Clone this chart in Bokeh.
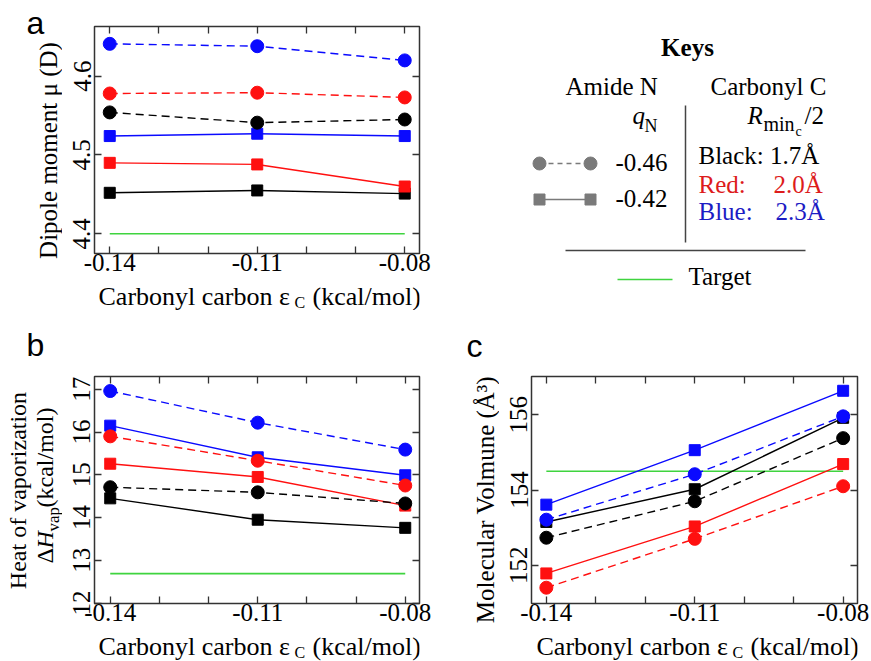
import math
from bokeh.plotting import figure
from bokeh.models import Range1d, LinearAxis, FixedTicker, Label
from bokeh.layouts import row, column
from bokeh.embed import file_html
from bokeh.resources import INLINE

# ---------------- data ----------------
eps_c = [-0.14, -0.11, -0.08]
x_minor = [-0.13, -0.12, -0.10, -0.09]
x_tick_labels = ["-0.14", "-0.11", "-0.08"]

# (a) dipole moment (D); q_N = -0.46 -> dashed circles, q_N = -0.42 -> solid squares
dip_q46_black = [4.554, 4.541, 4.545]
dip_q46_red = [4.578, 4.579, 4.573]
dip_q46_blue = [4.641, 4.638, 4.620]
dip_q42_black = [4.452, 4.455, 4.451]
dip_q42_red = [4.490, 4.488, 4.460]
dip_q42_blue = [4.524, 4.527, 4.524]
dip_target = 4.40
dip_ticks = [4.4, 4.5, 4.6]
dip_tick_labels = ["4.4", "4.5", "4.6"]

# (b) heat of vaporization (kcal/mol)
hv_q46_black = [14.71, 14.59, 14.33]
hv_q46_red = [15.90, 15.33, 14.75]
hv_q46_blue = [16.96, 16.22, 15.59]
hv_q42_black = [14.45, 13.95, 13.76]
hv_q42_red = [15.26, 14.95, 14.28]
hv_q42_blue = [16.15, 15.41, 14.99]
hv_target = 12.69
hv_ticks = [12, 13, 14, 15, 16, 17]
hv_tick_labels = ["12", "13", "14", "15", "16", "17"]

# (c) molecular volume (A^3)
mv_q46_black = [152.73, 153.70, 155.38]
mv_q46_red = [151.40, 152.70, 154.10]
mv_q46_blue = [153.21, 154.42, 155.96]
mv_q42_black = [153.15, 154.02, 155.92]
mv_q42_red = [151.78, 153.03, 154.69]
mv_q42_blue = [153.61, 155.06, 156.64]
mv_target = 154.50
mv_ticks = [152, 154, 156]
mv_tick_labels = ["152", "154", "156"]

# ---------------- style ----------------
SERIF = "Liberation Serif"
SANS = "Liberation Sans"
FRAME = "#333333"
C_BLACK = "#000000"
C_RED = "#ff1010"
C_BLUE = "#0a0aff"
C_GREEN = "#3fd43f"
C_GRAY = "#7a7a7a"
VERT = math.pi / 2
BASE_SHIFT = 0.32   # measured offset of rendered baseline, in em


def style_axis(ax, standoff=0):
    ax.axis_line_color = None
    ax.major_tick_in = 7
    ax.major_tick_out = 0
    ax.minor_tick_in = 7
    ax.minor_tick_out = 0
    ax.major_tick_line_color = FRAME
    ax.minor_tick_line_color = FRAME
    ax.major_tick_line_width = 1.3
    ax.minor_tick_line_width = 1.3
    ax.major_label_text_font = SERIF
    ax.major_label_text_font_size = "25px"
    ax.major_label_text_color = "#000000"
    ax.major_label_standoff = standoff


def panel(width, height, borders, xr, yr, yticks, ylabels, sq, ci, target, ystand=4):
    lb, rb, tb, bb = borders
    p = figure(width=width, height=height, output_backend="svg", toolbar_location=None,
               x_range=Range1d(*xr), y_range=Range1d(*yr),
               min_border_left=lb, min_border_right=rb,
               min_border_top=tb, min_border_bottom=bb,
               background_fill_color="white", border_fill_color="white")
    p.grid.visible = False
    p.outline_line_color = FRAME
    p.outline_line_width = 1.5

    p.xaxis.ticker = FixedTicker(ticks=eps_c, minor_ticks=x_minor)
    p.xaxis.major_label_overrides = dict(zip(eps_c, x_tick_labels))
    p.yaxis.ticker = FixedTicker(ticks=yticks, minor_ticks=[])
    p.yaxis.major_label_overrides = dict(zip(yticks, ylabels))
    p.yaxis.major_label_orientation = "vertical"
    for ax in p.xaxis:
        style_axis(ax, 0)
    for ax in p.yaxis:
        style_axis(ax, ystand)

    top = LinearAxis(ticker=FixedTicker(ticks=[], minor_ticks=eps_c + x_minor))
    right = LinearAxis(ticker=FixedTicker(ticks=[], minor_ticks=list(yticks)))
    style_axis(top)
    style_axis(right)
    p.add_layout(top, "above")
    p.add_layout(right, "right")

    p.line([eps_c[0], eps_c[-1]], [target, target], line_color=C_GREEN, line_width=1.6)
    for vals, col in sq:
        p.line(eps_c, vals, line_color=col, line_width=1.4)
        p.scatter(eps_c, vals, marker="square", size=11, fill_color=col, line_color=col)
    for vals, col in ci:
        p.line(eps_c, vals, line_color=col, line_width=1.4, line_dash="8 5")
        p.scatter(eps_c, vals, marker="circle", size=13, fill_color=col, line_color=col)
    return p


def strip(x0, x1, y0, y1):
    """A blank figure covering page pixels x0..x1, y0..y1 (data = page pixels)."""
    s = figure(width=x1 - x0, height=y1 - y0, output_backend="svg", toolbar_location=None,
               x_range=Range1d(x0, x1), y_range=Range1d(y1, y0),
               min_border_left=0, min_border_right=0, min_border_top=0, min_border_bottom=0,
               x_axis_type=None, y_axis_type=None,
               background_fill_color="white", border_fill_color="white")
    s.outline_line_color = None
    s.grid.visible = False
    s._page_origin = (x0, y0)
    return s


def lab(p, x, y, text, size=25, font=SERIF, style="normal", color="#000000",
        align="left", angle=0.0, canvas=True):
    """Place a text whose baseline passes through page pixel (x, y)."""
    shift = BASE_SHIFT * size
    if angle:
        x = x - shift
    else:
        y = y - shift
    if canvas:
        ox, oy = p._page_origin
        kw = dict(x=x - ox, y=y - oy, x_units="canvas", y_units="canvas")
    else:
        kw = dict(x=x, y=y)
    p.add_layout(Label(text=text, text_font=font, text_font_size=f"{size}px",
                       text_font_style=style, text_color=color, text_align=align,
                       text_baseline="alphabetic", angle=angle, **kw))


def xtitle(s, x0, base):
    lab(s, x0, base, "Carbonyl carbon ε", size=26)
    lab(s, x0 + 196, base + 3, "C", size=16)
    lab(s, x0 + 214, base, "(kcal/mol)", size=26)


# ======== top row ========
LA = 62
PA_H = 281
pa = panel(440 - LA, PA_H, (94 - LA, 21, 26, PA_H - 253), (-0.1431, -0.0770), (4.375, 4.663),
           dip_ticks, dip_tick_labels,
           [(dip_q42_black, C_BLACK), (dip_q42_red, C_RED), (dip_q42_blue, C_BLUE)],
           [(dip_q46_black, C_BLACK), (dip_q46_red, C_RED), (dip_q46_blue, C_BLUE)],
           dip_target)
la = strip(0, LA, 0, 310)
lab(la, 26, 33, "a", size=32, font=SANS)
lab(la, 56, 150, "Dipole moment μ (D)", align="center", angle=VERT)
ba = strip(LA, 440, PA_H, 310)
xtitle(ba, 98, 304)

# keys
pk = strip(440, 871, 0, 310)
pk.line([685, 685], [105, 242], line_color="#444444", line_width=1.5)
pk.line([565, 805], [250, 250], line_color="#444444", line_width=1.5)
pk.line([539, 590], [163, 163], line_color=C_GRAY, line_width=1.5, line_dash="5 4")
pk.scatter([539, 590], [163, 163], marker="circle", size=13, fill_color=C_GRAY, line_color=C_GRAY)
pk.line([539, 590], [199, 199], line_color=C_GRAY, line_width=1.5)
pk.scatter([539, 590], [199, 199], marker="square", size=11, fill_color=C_GRAY, line_color=C_GRAY)
pk.line([617, 672], [279, 279], line_color=C_GREEN, line_width=1.6)
lab(pk, 687, 55, "Keys", style="bold", align="center", canvas=False)
lab(pk, 565, 94, "Amide N", canvas=False)
lab(pk, 710, 94, "Carbonyl C", canvas=False)
lab(pk, 632, 123, "q", style="italic", canvas=False)
lab(pk, 644, 131, "N", size=18, canvas=False)
lab(pk, 747, 123, "R", style="italic", canvas=False)
lab(pk, 763, 130, "min", size=20, canvas=False)
lab(pk, 795, 135, "c", size=14, canvas=False)
lab(pk, 804, 123, "/2", canvas=False)
lab(pk, 615, 170, "-0.46", canvas=False)
lab(pk, 615, 206, "-0.42", canvas=False)
lab(pk, 698, 163, "Black: 1.7Å", canvas=False)
lab(pk, 698, 192, "Red:", color="#dd1c1c", canvas=False)
lab(pk, 773, 192, "2.0Å", color="#dd1c1c", canvas=False)
lab(pk, 698, 219, "Blue:", color="#1c1cc4", canvas=False)
lab(pk, 775, 219, "2.3Å", color="#1c1cc4", canvas=False)
lab(pk, 688, 284, "Target", canvas=False)

# ======== bottom row ========
LB = 62
PB_H = 321
pb = panel(440 - LB, PB_H, (94 - LB, 21, 66, PB_H - 293), (-0.1432, -0.0771), (11.99, 17.30),
           hv_ticks, hv_tick_labels,
           [(hv_q42_black, C_BLACK), (hv_q42_red, C_RED), (hv_q42_blue, C_BLUE)],
           [(hv_q46_black, C_BLACK), (hv_q46_red, C_RED), (hv_q46_blue, C_BLUE)],
           hv_target)
lb = strip(0, LB, 310, 661)
lab(lb, 26, 355, "b", size=32, font=SANS)
lab(lb, 25, 490, "Heat of vaporization", size=24, align="center", angle=VERT)
lab(lb, 52, 563, "Δ", size=24, angle=VERT)
lab(lb, 52, 548, "H", size=24, style="italic", angle=VERT)
lab(lb, 58, 531, "vap", size=17, angle=VERT)
lab(lb, 52, 507, "(kcal/mol)", size=24, angle=VERT)
bb = strip(LB, 440, 310 + PB_H, 661)
xtitle(bb, 98, 654)

LC = 59
pc = panel(431 - LC, PB_H, (91 - LC, 14, 66, PB_H - 293), (-0.1430, -0.0771), (150.98, 157.02),
           mv_ticks, mv_tick_labels,
           [(mv_q42_black, C_BLACK), (mv_q42_red, C_RED), (mv_q42_blue, C_BLUE)],
           [(mv_q46_black, C_BLACK), (mv_q46_red, C_RED), (mv_q46_blue, C_BLUE)],
           mv_target)
lc = strip(440, 440 + LC, 310, 661)
lab(lc, 466, 356, "c", size=32, font=SANS)
lab(lc, 493, 499, "Molecular Volmune (Å³)", align="center", angle=VERT)
bc = strip(440 + LC, 871, 310 + PB_H, 661)
xtitle(bc, 536, 654)

layout = column(
    row(la, column(pa, ba), pk),
    row(lb, column(pb, bb), lc, column(pc, bc)),
)
open("out.html", "w").write(file_html(layout, INLINE))
